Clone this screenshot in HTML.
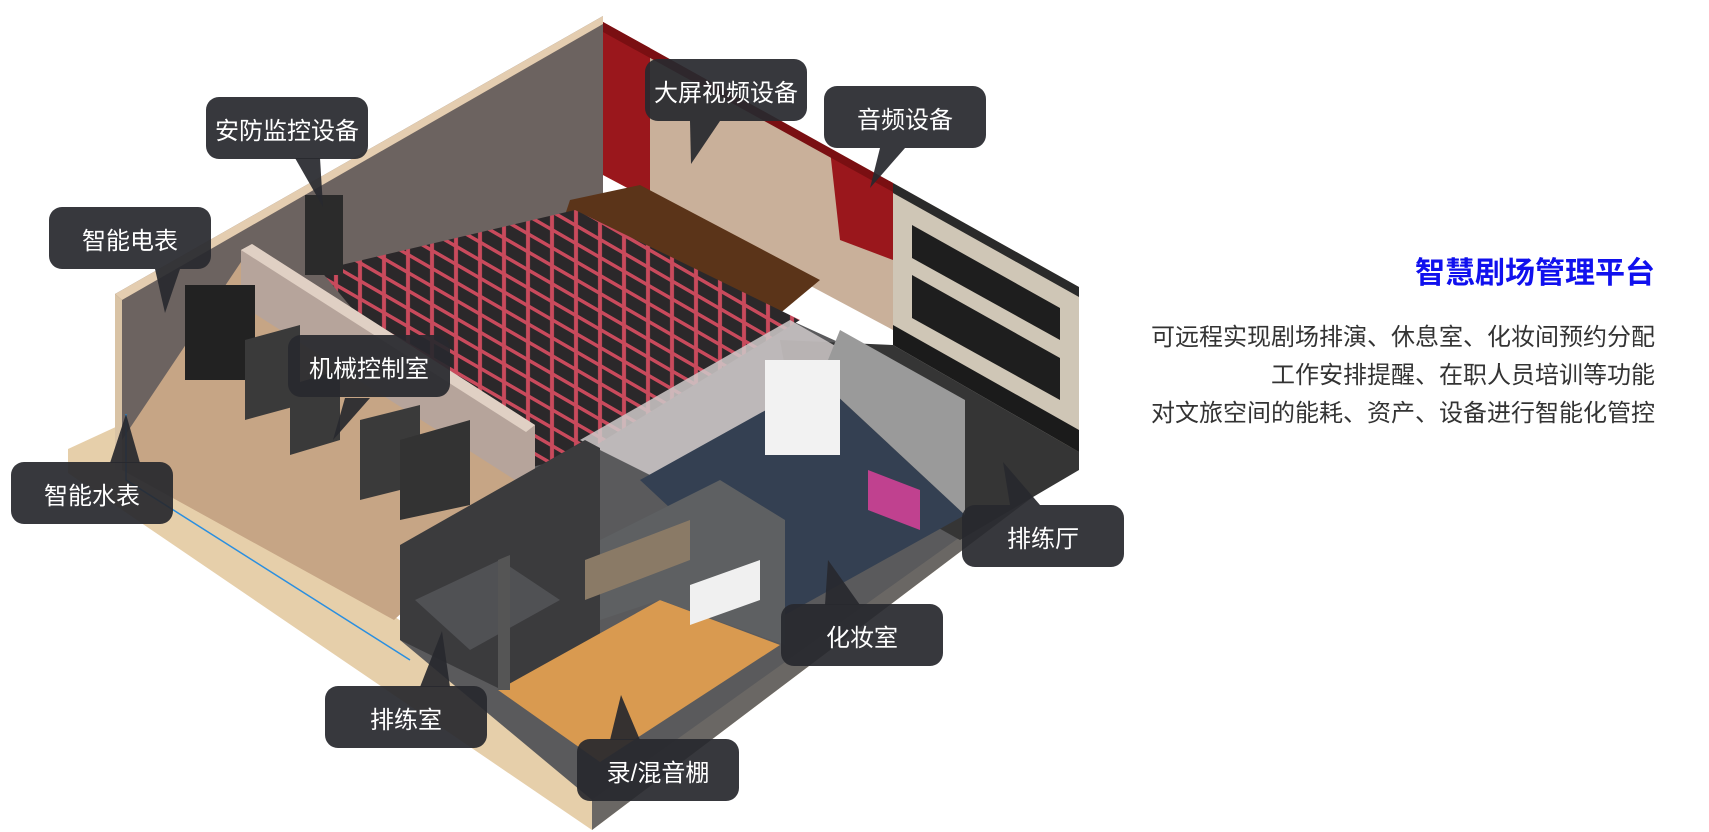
<!DOCTYPE html>
<html><head><meta charset="utf-8"><style>
html,body{margin:0;padding:0;background:#fff;}
body{width:1709px;height:832px;position:relative;overflow:hidden;font-family:"Liberation Sans","Noto Sans CJK SC",sans-serif;}
svg{position:absolute;left:0;top:0;}
.lb{position:absolute;background:rgba(40,41,46,0.93);color:#fff;border-radius:13px;font-size:24px;display:flex;align-items:center;justify-content:center;height:62px;width:162px;}
.t{position:absolute;right:54px;text-align:right;color:#333;font-size:24px;line-height:38px;}
</style></head><body>
<svg width="1709" height="832" viewBox="0 0 1709 832">
<defs>
<pattern id="seat" width="24" height="18" patternUnits="userSpaceOnUse" patternTransform="skewY(30)">
<rect width="24" height="18" fill="#c94a5c"/><rect x="2" y="3" width="20" height="14" fill="#2b282a"/></pattern>
</defs>
<!-- base -->
<polygon points="68,449 120,425 600,760 1079,420 1079,462 592,830 68,473" fill="#e6cfaa"/>
<polygon points="592,800 1079,440 1079,462 592,830" fill="#6a6764"/>
<!-- left back wall -->
<polygon points="115,294 603,16 603,210 115,470" fill="#6c6360"/>
<polygon points="115,294 603,16 603,24 122,300" fill="#e4cdb0"/>
<polygon points="115,294 122,300 122,470 115,470" fill="#d9c3a5"/>
<!-- stage / curtains -->
<polygon points="603,22 893,183 893,330 603,175" fill="#c9b09a"/>
<polygon points="603,22 650,48 650,200 603,175" fill="#9a171c"/>
<polygon points="830,150 893,183 893,260 840,240" fill="#9a171c"/>
<polygon points="603,22 893,183 893,192 603,32" fill="#7a0f12"/>
<polygon points="570,200 640,185 820,280 760,330 560,230" fill="#5b3419"/>
<!-- interior base fill -->
<polygon points="400,545 600,420 790,320 1079,452 592,800 400,640" fill="#5a5a5c"/>
<!-- auditorium floor -->
<polygon points="320,270 575,210 800,320 580,455 520,470 420,390" fill="url(#seat)"/>
<!-- right wall -->
<polygon points="893,183 1079,287 1079,452 893,345" fill="#cfc6b6"/>
<polygon points="893,183 1079,287 1079,297 893,193" fill="#2a2a2a"/>
<polygon points="912,225 1060,308 1060,340 912,258" fill="#1e1e1e"/>
<polygon points="912,275 1060,358 1060,400 912,318" fill="#1e1e1e"/>
<polygon points="893,345 1079,452 1079,430 893,325" fill="#1b1b1b"/>
<!-- rehearsal hall floor -->
<polygon points="780,340 893,345 1079,452 1079,470 960,540 800,450" fill="#353535"/>
<!-- machine room -->
<polygon points="122,440 241,262 535,450 535,490 394,620 122,470" fill="#c6a585"/>
<polygon points="241,250 252,244 535,425 535,482 526,487 241,305" fill="#b6a49b"/>
<polygon points="241,250 252,244 535,425 526,432" fill="#e0d0c4"/>
<rect x="185" y="285" width="70" height="95" fill="#222"/>
<polygon points="245,340 300,325 300,405 245,420" fill="#3a3a3a"/>
<polygon points="290,385 340,370 340,440 290,455" fill="#3a3a3a"/>
<polygon points="360,420 420,405 420,485 360,500" fill="#3a3a3a"/>
<polygon points="400,440 470,420 470,505 400,520" fill="#333"/>
<rect x="305" y="195" width="38" height="80" fill="#2b2b2b"/>
<!-- glass corridor -->
<polygon points="580,440 790,320 860,360 660,480" fill="#cfc9c9" opacity="0.85"/>
<!-- dressing room -->
<polygon points="640,480 820,380 965,515 785,615" fill="#344052"/>
<polygon points="820,380 840,330 965,400 965,515" fill="#9a9a9a"/>
<rect x="765" y="360" width="75" height="95" fill="#f2f2f2"/>
<polygon points="868,470 920,490 920,530 868,510" fill="#c0418f"/>
<!-- rehearsal room -->
<polygon points="400,545 585,440 600,448 600,660 498,688 400,640" fill="#3b3b3d"/>
<polygon points="415,600 500,560 560,600 470,650" fill="#505154"/>
<!-- studio -->
<polygon points="498,690 660,600 780,645 600,762" fill="#d99a50"/>
<polygon points="600,540 720,480 785,520 785,645 660,600 600,620" fill="#5e6062"/>
<polygon points="585,560 690,520 690,560 585,600" fill="#8a7a66"/>
<polygon points="690,585 760,560 760,600 690,625" fill="#f0f0f0"/>
<polygon points="498,560 510,555 510,690 498,690" fill="#555"/>
<polyline points="126,414 126,480 410,660" fill="none" stroke="#2a8fe0" stroke-width="1.5"/>
<!-- pointers -->
<g fill="rgba(40,41,46,0.93)">
<polygon points="295,158 320,158 323,207"/>
<polygon points="690,121 720,121 691,164"/>
<polygon points="880,148 905,148 870,188"/>
<polygon points="155,269 180,269 165,313"/>
<polygon points="345,398 370,398 333,440"/>
<polygon points="110,463 140,463 126,414"/>
<polygon points="1010,505 1040,505 1003,462"/>
<polygon points="825,605 860,605 828,560"/>
<polygon points="420,687 450,687 442,631"/>
<polygon points="610,740 640,740 621,695"/>
</g>
</svg>
<div class="lb" style="left:206px;top:97px;">安防监控设备</div>
<div class="lb" style="left:645px;top:59px;">大屏视频设备</div>
<div class="lb" style="left:824px;top:86px;">音频设备</div>
<div class="lb" style="left:49px;top:207px;">智能电表</div>
<div class="lb" style="left:288px;top:335px;">机械控制室</div>
<div class="lb" style="left:11px;top:462px;">智能水表</div>
<div class="lb" style="left:962px;top:505px;">排练厅</div>
<div class="lb" style="left:781px;top:604px;">化妆室</div>
<div class="lb" style="left:325px;top:686px;">排练室</div>
<div class="lb" style="left:577px;top:739px;">录/混音棚</div>
<div class="t" style="top:256px;color:#1010ee;font-size:30px;line-height:36px;font-weight:bold;">智慧剧场管理平台</div>
<div class="t" style="top:319px;">可远程实现剧场排演、休息室、化妆间预约分配<br>工作安排提醒、在职人员培训等功能<br>对文旅空间的能耗、资产、设备进行智能化管控</div>
</body></html>
